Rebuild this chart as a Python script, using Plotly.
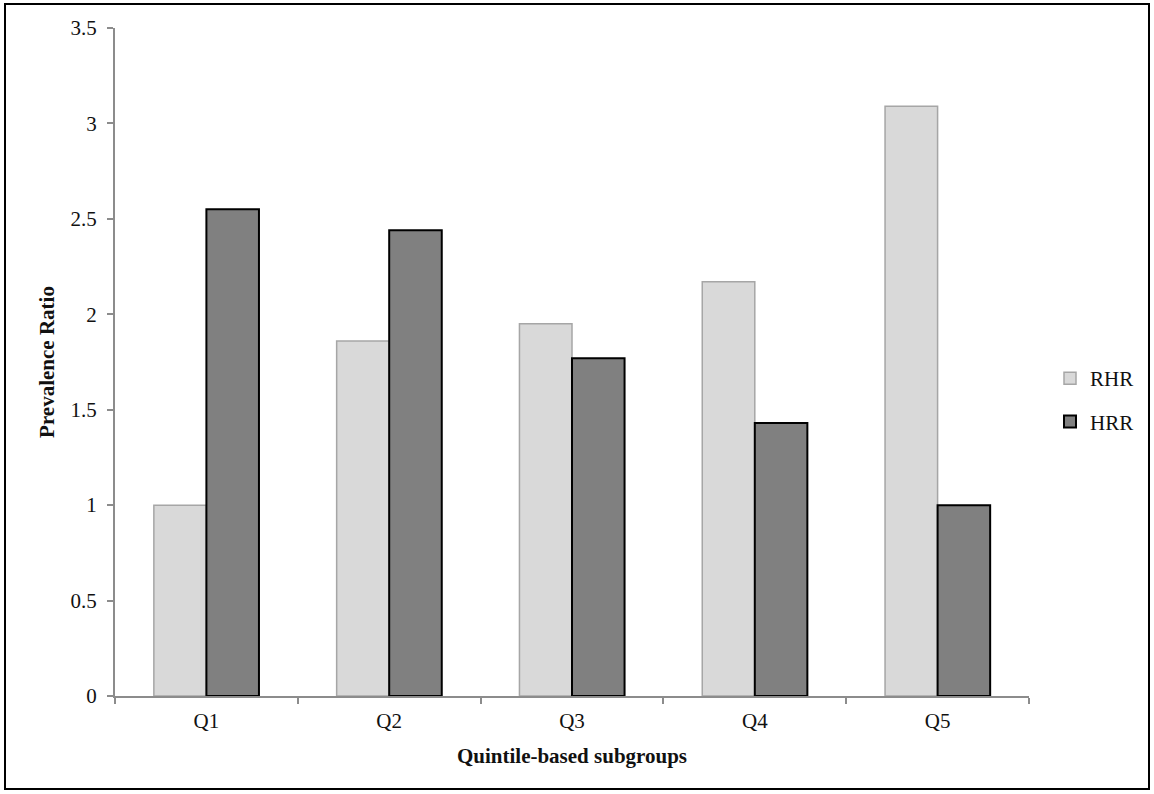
import plotly.graph_objects as go

categories = ["Q1", "Q2", "Q3", "Q4", "Q5"]
rhr = [1.0, 1.86, 1.95, 2.17, 3.09]
hrr = [2.55, 2.44, 1.77, 1.43, 1.0]
y_ticks = [0, 0.5, 1, 1.5, 2, 2.5, 3, 3.5]
y_tick_labels = ["0", "0.5", "1", "1.5", "2", "2.5", "3", "3.5"]

FONT = "Liberation Serif, Times New Roman, serif"

fig = go.Figure()
fig.add_trace(go.Bar(
    x=categories, y=rhr, name="RHR", legendgroup="a",
    marker=dict(color="#d9d9d9", line=dict(color="#a6a6a6", width=1.5)),
))
fig.add_trace(go.Bar(
    x=categories, y=hrr, name="HRR", legendgroup="b",
    marker=dict(color="#808080", line=dict(color="#000000", width=2)),
))

L, R, T, B = 115, 125, 28, 98
W, H = 1154, 794
pw, ph = W - L - R, H - T - B

def px_x(p):
    return (p - L) / pw

def px_y(p):
    return (H - B - p) / ph

fig.update_layout(
    width=W, height=H,
    margin=dict(l=L, r=R, t=T, b=B, pad=0),
    paper_bgcolor="white", plot_bgcolor="white",
    font=dict(family=FONT, size=20, color="#111111"),
    barmode="group", bargap=0.425, bargroupgap=0,
    showlegend=True,
    legend=dict(
        x=px_x(1050), xanchor="left", y=px_y(400), yanchor="middle",
        font=dict(family=FONT, size=21, color="#111111"),
        tracegroupgap=13, traceorder="grouped",
        bgcolor="rgba(0,0,0,0)", itemwidth=30,
    ),
    xaxis=dict(
        type="category", showline=True, linecolor="#8c8c8c", linewidth=2,
        ticks="outside", ticklen=6, tickcolor="#8c8c8c", tickwidth=2,
        tickson="boundaries", showgrid=False, zeroline=False,
        ticklabelstandoff=5,
        tickfont=dict(family=FONT, size=21, color="#111111"),
        title=dict(text="<b>Quintile-based subgroups</b>", standoff=16,
                   font=dict(family=FONT, size=21, color="#111111")),
    ),
    yaxis=dict(
        range=[0, 3.5], tickvals=y_ticks, ticktext=y_tick_labels,
        showline=True, linecolor="#8c8c8c", linewidth=2,
        ticks="outside", ticklen=6, tickcolor="#8c8c8c", tickwidth=2,
        showgrid=False, zeroline=False, ticklabelstandoff=6,
        tickfont=dict(family=FONT, size=21, color="#111111"),
        title=dict(text="<b>Prevalence Ratio</b>", standoff=10,
                   font=dict(family=FONT, size=21, color="#111111")),
    ),
    shapes=[dict(
        type="rect", xref="paper", yref="paper",
        x0=px_x(5), x1=px_x(1149), y0=px_y(789), y1=px_y(4),
        line=dict(color="black", width=2), fillcolor="rgba(0,0,0,0)",
        layer="above",
    )],
)

fig.write_html(
    "out.html",
    config={"displayModeBar": False},
    post_script="document.body.style.margin='0';document.body.style.overflow='hidden';",
)
